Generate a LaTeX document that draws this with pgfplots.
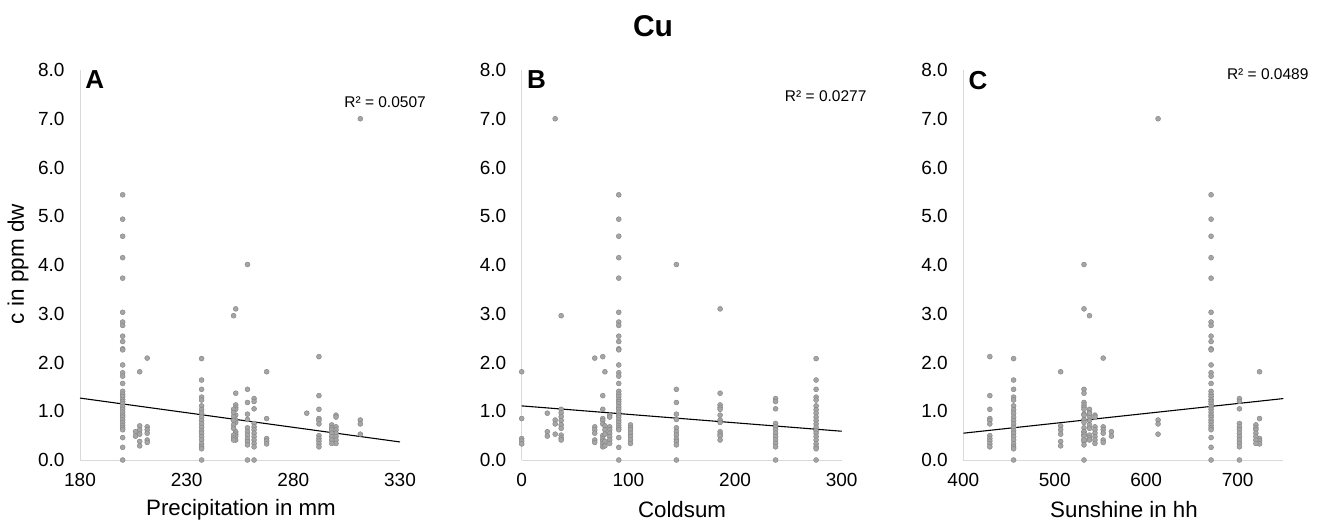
\documentclass[border=0pt]{standalone}
\usepackage{fontspec}
\setmainfont{Liberation Sans}
\usepackage{pgfplots}
\usepackage{pgfplotstable}
\pgfplotsset{compat=1.18}
\definecolor{dotfill}{RGB}{165,165,165}
\definecolor{dotedge}{RGB}{130,130,130}
\definecolor{axgray}{RGB}{217,217,217}

% columns: precipitation, coldsum, sunshine, concentration
\pgfplotstableread{
p c s y
200 91 671 5.44
200 91 671 4.94
200 91 671 4.59
200 91 671 4.15
200 91 671 3.73
200 91 671 3.03
200 91 671 2.83
200 91 671 2.76
200 91 671 2.54
200 91 671 2.43
200 91 671 2.28
200 91 671 2.26
200 91 671 1.95
200 91 671 1.79
200 91 671 1.72
200 91 671 1.57
200 91 671 1.41
200 91 671 1.35
200 91 671 1.30
200 91 671 1.24
200 91 671 1.20
200 91 671 1.15
200 91 671 1.09
200 91 671 1.04
200 91 671 0.98
200 91 671 0.92
200 91 671 0.88
200 91 671 0.82
200 91 671 0.77
200 91 671 0.71
200 91 671 0.66
200 91 671 0.62
200 91 671 0.46
200 91 671 0.26
200 91 671 0.0
237 276 455 2.08
237 276 455 1.64
237 276 455 1.45
237 276 455 1.29
237 276 455 1.23
237 276 455 1.11
237 276 455 1.03
237 276 455 0.96
237 276 455 0.88
237 276 455 0.81
237 276 455 0.74
237 276 455 0.67
237 276 455 0.60
237 276 455 0.55
237 276 455 0.48
237 276 455 0.41
237 276 455 0.33
237 276 455 0.27
237 276 455 0.23
237 276 455 0.0
258.5 145 532 4.01
258.5 145 532 1.45
258.5 145 532 1.18
258.5 145 532 0.94
258.5 145 532 0.83
258.5 145 532 0.66
258.5 145 532 0.58
258.5 145 532 0.51
258.5 145 532 0.43
258.5 145 532 0.38
258.5 145 532 0.31
258.5 145 532 0.0
253 186 532 3.10
253 186 532 1.37
253 186 532 1.13
253 186 532 1.08
253 186 532 1.04
253 186 532 0.92
253 186 532 0.82
253 186 532 0.77
253 186 532 0.58
253 186 532 0.53
253 186 532 0.49
253 186 532 0.41
252 37 538 2.96
252 37 538 1.04
252 37 538 0.97
252 37 538 0.89
252 37 538 0.81
252 37 538 0.72
252 37 538 0.65
252 37 538 0.51
252 37 538 0.45
252 37 538 0.41
292 76 429 2.12
292 76 429 1.32
292 76 429 1.04
292 76 429 0.85
292 76 429 0.81
292 76 429 0.74
292 76 429 0.50
292 76 429 0.44
292 76 429 0.39
292 76 429 0.33
292 76 429 0.27
211.5 68.5 553 2.09
211.5 68.5 553 0.68
211.5 68.5 553 0.62
211.5 68.5 553 0.55
211.5 68.5 553 0.41
211.5 68.5 553 0.36
267.5 0 724 1.81
267.5 0 724 0.85
267.5 0 724 0.44
267.5 0 724 0.39
267.5 0 724 0.33
208 78 506.5 1.81
208 78 506.5 0.70
208 78 506.5 0.62
208 78 506.5 0.53
208 78 506.5 0.38
208 78 506.5 0.29
261.6 238 702 1.26
261.6 238 702 1.20
261.6 238 702 1.05
261.6 238 702 0.75
261.6 238 702 0.68
261.6 238 702 0.62
261.6 238 702 0.55
261.6 238 702 0.48
261.6 238 702 0.41
261.6 238 702 0.34
261.6 238 702 0.27
261.6 238 702 0.0
206 24 562 0.58
206 24 562 0.49
286.3 24 538 0.96
311.4 31.4 613 7.0
311.4 31.4 613 0.82
311.4 31.4 613 0.74
311.4 31.4 613 0.53
300 82.5 544 0.92
300 82.5 544 0.88
300 82.5 544 0.68
300 82.5 544 0.62
300 82.5 544 0.55
300 82.5 544 0.48
300 82.5 544 0.41
300 82.5 544 0.34
298 102 720 0.72
298 102 720 0.66
298 102 720 0.62
298 102 720 0.55
298 102 720 0.48
298 102 720 0.41
298 102 720 0.34
}\data

\pgfplotsset{
  panel/.style={
    scale only axis, width=320pt, height=390pt,
    anchor=south west,
    ymin=0, ymax=8, ytick={0,1,...,8},
    axis x line*=bottom, axis y line*=left,
    axis line style={draw=axgray, line width=1pt, -},
    major tick length=0pt,
    tick label style={font=\fontsize{19}{21}\selectfont, text=black},
    /pgf/number format/assume math mode=true,
    yticklabel style={xshift=-12pt, /pgf/number format/fixed, /pgf/number format/fixed zerofill, /pgf/number format/precision=1},
    xticklabel style={yshift=-10pt},
    clip=false,
  },
  dots/.style={only marks, mark=*, mark size=2.5pt,
    mark options={fill=dotfill, draw=dotedge, line width=0.4pt}},
  trend/.style={black, line width=1.1pt, no marks},
}

\begin{document}
\begin{tikzpicture}
\useasboundingbox (0pt,0pt) rectangle (1324pt,522pt);

% Panel A
\begin{axis}[panel, at={(80pt,62pt)}, xmin=180, xmax=330, xtick={180,230,280,330}]
\addplot[dots] table[x=p, y=y] {\data};
\addplot[trend] coordinates {(180,1.27) (330,0.37)};
\node[anchor=north west, font=\fontsize{26}{28}\selectfont\bfseries, inner sep=0pt] at (rel axis cs:0.016,0.998) {A};
\node[font=\fontsize{15.5}{17}\selectfont] at (axis cs:323,7.34) {R² = 0.0507};
\end{axis}

% Panel B
\begin{axis}[panel, at={(521.7pt,62pt)}, xmin=0, xmax=300, xtick={0,100,200,300}]
\addplot[dots] table[x=c, y=y] {\data};
\addplot[trend] coordinates {(0,1.11) (300,0.59)};
\node[anchor=north west, font=\fontsize{26}{28}\selectfont\bfseries, inner sep=0pt] at (rel axis cs:0.016,0.998) {B};
\node[font=\fontsize{15.5}{17}\selectfont] at (axis cs:285,7.47) {R² = 0.0277};
\end{axis}

% Panel C
\begin{axis}[panel, at={(963.3pt,62pt)}, xmin=400, xmax=750, xtick={400,500,600,700}]
\addplot[dots] table[x=s, y=y] {\data};
\addplot[trend] coordinates {(400,0.55) (750,1.26)};
\node[anchor=north west, font=\fontsize{26}{28}\selectfont\bfseries, inner sep=0pt] at (rel axis cs:0.016,0.998) {C};
\node[font=\fontsize{15.5}{17}\selectfont] at (axis cs:733,7.92) {R² = 0.0489};
\end{axis}

% Titles and labels
\node[font=\fontsize{30}{33}\selectfont\bfseries] at (653pt,496pt) {Cu};
\node[font=\fontsize{22.3}{24}\selectfont] at (241pt,12pt) {Precipitation in mm};
\node[font=\fontsize{22.3}{24}\selectfont] at (682pt,12pt) {Coldsum};
\node[font=\fontsize{22.3}{24}\selectfont] at (1124pt,12pt) {Sunshine in hh};
\node[font=\fontsize{22.5}{24}\selectfont, rotate=90] at (18pt,258pt) {c in ppm dw};
\end{tikzpicture}
\end{document}
